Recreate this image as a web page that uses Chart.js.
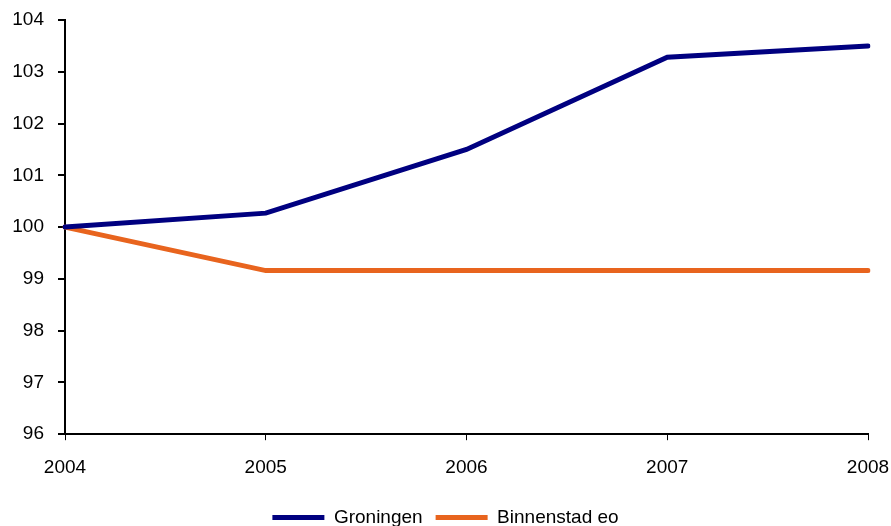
<!DOCTYPE html>
<html>
<head>
<meta charset="utf-8">
<script src="https://cdn.jsdelivr.net/npm/chart.js@4/dist/chart.umd.min.js"></script>
<style>
  html, body { margin: 0; padding: 0; background: #fff; }
  #wrap { width: 891px; height: 526px; position: relative; }
</style>
</head>
<body>
<div id="wrap"><canvas id="c"></canvas></div>
<script>
const years = ['2004', '2005', '2006', '2007', '2008'];
const groningen = [100, 100.27, 101.5, 103.28, 103.5];
const binnenstad = [100, 99.16, 99.16, 99.16, 99.16];
const yTicks = [96, 97, 98, 99, 100, 101, 102, 103, 104];

const fontFam = "'Liberation Sans', Arial, sans-serif";

new Chart(document.getElementById('c'), {
  type: 'line',
  data: {
    labels: years,
    datasets: [
      {
        label: 'Groningen',
        data: groningen,
        borderColor: '#000080',
        backgroundColor: '#000080',
        borderWidth: 5,
        borderCapStyle: 'round',
        borderJoinStyle: 'miter',
        pointRadius: 0,
        tension: 0
      },
      {
        label: 'Binnenstad eo',
        data: binnenstad,
        borderColor: '#E8641E',
        backgroundColor: '#E8641E',
        borderWidth: 5,
        borderCapStyle: 'round',
        borderJoinStyle: 'miter',
        pointRadius: 0,
        tension: 0
      }
    ]
  },
  options: {
    responsive: true,
    maintainAspectRatio: false,
    animation: false,
    layout: { padding: { left: 2, right: 2, top: 20, bottom: -11 } },
    plugins: {
      tooltip: { enabled: false },
      legend: {
        position: 'bottom',
        labels: {
          usePointStyle: true,
          pointStyle: 'line',
          pointStyleWidth: 52,
          boxHeight: 18,
          color: '#000',
          padding: 13,
          font: { family: fontFam, size: 19 }
        }
      }
    },
    scales: {
      x: {
        offset: false,
        afterFit: (axis) => { axis.paddingRight = 23; axis.paddingLeft = 21; },
        grid: {
          display: true,
          drawOnChartArea: false,
          drawTicks: true,
          tickLength: 6,
          color: '#000',
          lineWidth: 1
        },
        border: { display: true, color: '#000', width: 2 },
        ticks: {
          color: '#000',
          padding: 16,
          maxRotation: 0,
          font: { family: fontFam, size: 19 }
        }
      },
      y: {
        min: 96,
        max: 104,
        afterBuildTicks: (axis) => { axis.ticks = yTicks.map(v => ({ value: v })); },
        afterFit: (axis) => { axis.width = 63; axis.paddingTop = 0; },
        grid: {
          display: true,
          drawOnChartArea: false,
          drawTicks: true,
          tickLength: 7,
          color: '#000',
          lineWidth: 2
        },
        border: { display: true, color: '#000', width: 2 },
        ticks: {
          color: '#000',
          padding: 14,
          font: { family: fontFam, size: 19 }
        }
      }
    }
  }
});
</script>
</body>
</html>
